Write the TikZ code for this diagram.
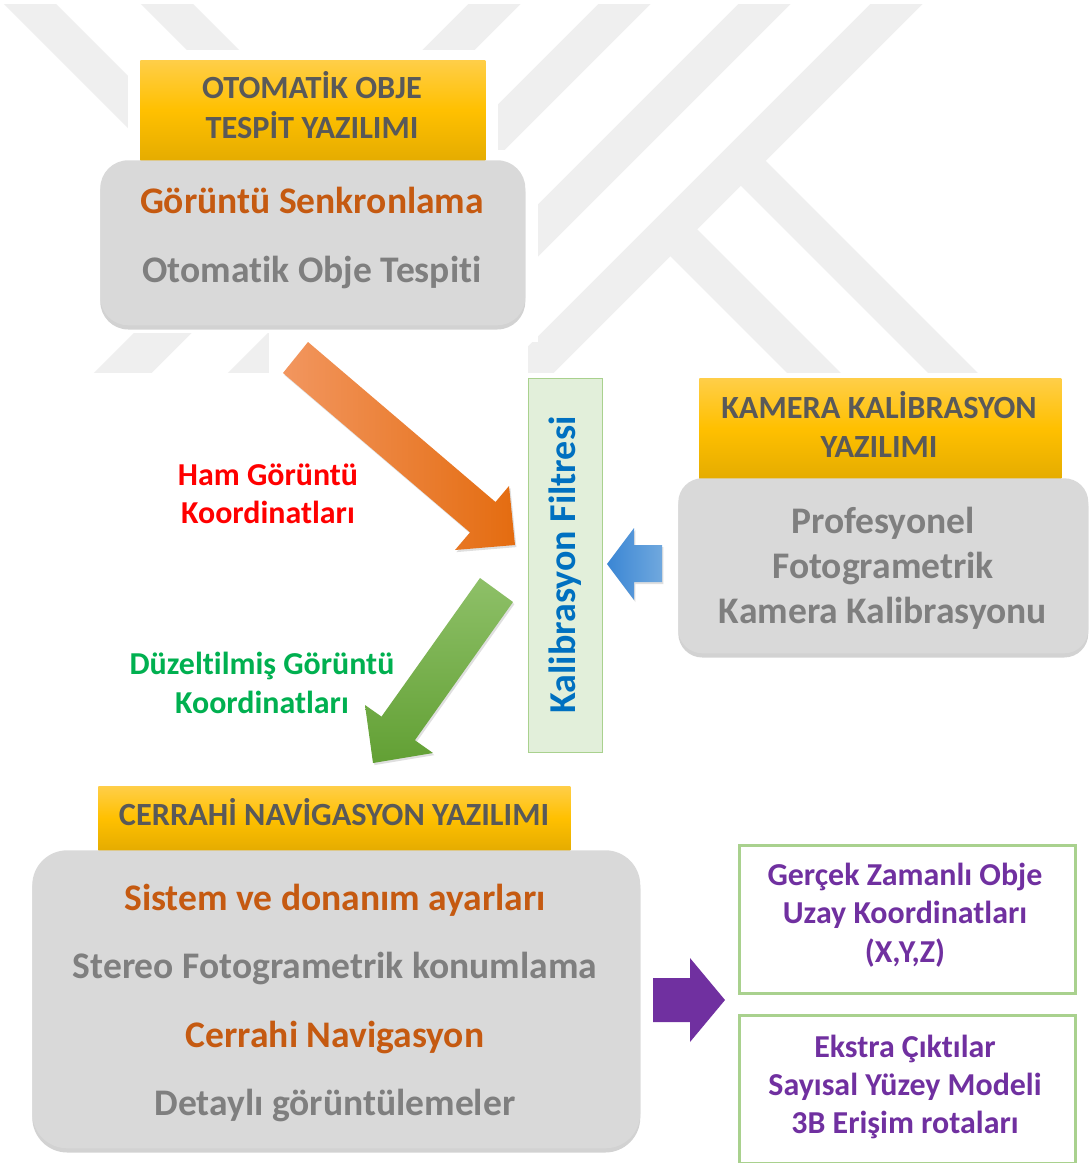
\documentclass[tikz,border=0pt]{standalone}
\usepackage{fontspec}
\setmainfont{Carlito}[Ligatures=NoCommon]
\usetikzlibrary{positioning,shadows}
\definecolor{hdtop}{RGB}{255,206,72}
\definecolor{hdyellow}{RGB}{255,192,0}
\definecolor{hdbot}{RGB}{229,172,0}
\definecolor{hdtext}{RGB}{89,89,89}
\definecolor{boxgray}{RGB}{217,217,217}
\definecolor{txtgray}{RGB}{127,127,127}
\definecolor{txtorange}{RGB}{197,90,17}
\definecolor{lgreen}{RGB}{169,209,142}
\definecolor{fgreen}{RGB}{226,239,218}
\definecolor{kblue}{RGB}{0,112,192}
\definecolor{purp}{RGB}{112,48,160}
\definecolor{labred}{RGB}{255,0,0}
\definecolor{labgreen}{RGB}{0,176,80}
\definecolor{wmgray}{RGB}{239,239,239}
\definecolor{orlight}{RGB}{242,150,95}
\definecolor{ordark}{RGB}{228,108,16}
\definecolor{grlight}{RGB}{142,192,104}
\definecolor{grdark}{RGB}{98,160,52}
\definecolor{bllight}{RGB}{112,168,222}
\definecolor{bldark}{RGB}{58,134,212}
\newcommand{\upx}{0.025cm}

\begin{document}
\begin{tikzpicture}[x=0.025cm,y=-0.025cm,
  header/.style={anchor=north west, top color=hdtop, bottom color=hdbot, middle color=hdyellow},
  graybox/.style={anchor=north west, fill=boxgray, drop shadow={shadow xshift=0pt, shadow yshift=-3pt, opacity=0.35}},
  outbox/.style={anchor=north west, draw=lgreen, line width=2.2pt, fill=white},
  hdtxt/.style={anchor=base, text=hdtext, font=\fontsize{23}{27}\selectfont\bfseries},
  gtxt/.style={anchor=base, text=txtgray, font=\fontsize{26.7}{31}\selectfont\bfseries},
  otxt/.style={gtxt, text=txtorange},
  ptxt/.style={anchor=base, text=purp, font=\fontsize{22.7}{27}\selectfont\bfseries},
  labtxt/.style={anchor=base, font=\fontsize{22.7}{27}\selectfont\bfseries},
  arrshadow/.style={drop shadow={shadow xshift=1pt, shadow yshift=-1.5pt, opacity=0.25}}]
\useasboundingbox (0,0) rectangle (1089,1163);
\fill[white] (0,0) rectangle (1089,1163);

% Background logo
\begin{scope}
  \clip (0,5) rectangle (1089,372);
  \draw[wmgray, line width=0.92cm] (-34,-60) -- (259.5,233.5) -- (63,430);
  \draw[wmgray, line width=0.92cm] (103,-60) -- (395,232) -- (197,430);
  \draw[wmgray, line width=0.92cm] (558.5,-60) -- (68.5,430);
  \draw[wmgray, line width=0.92cm] (688.5,-60) -- (198.5,430);
  \draw[wmgray, line width=0.92cm] (828.5,-60) -- (338.5,430);
  \draw[wmgray, line width=0.92cm] (960.5,-60) -- (470.5,430);
  \draw[wmgray, line width=0.88cm] (740,160) -- (1000,420);
  \draw[wmgray, line width=0.95cm] (671,230) -- (861,420);
\end{scope}
\fill[white] (128,50) rectangle (498,333);
\fill[white] (498,150) rectangle (538,342);
\fill[white] (269,333) rectangle (528,400);

% Automatic object detection
\node[header, minimum width=345*\upx, minimum height=100*\upx] (otoHd) at (140,60) {};
\node[hdtxt] (otoHdA) at (312,99) {OTOMATİK OBJE};
\node[hdtxt] (otoHdB) at (312,138) {TESPİT YAZILIMI};
\node[graybox, rounded corners=0.7cm, minimum width=425*\upx, minimum height=165*\upx] (otoBox) at (100,160) {};
\node[otxt] (otoA) at (312,213) {Görüntü Senkronlama};
\node[gtxt] (otoB) at (312,282) {Otomatik Obje Tespiti};

% Camera calibration
\node[header, minimum width=362*\upx, minimum height=100*\upx] (kamHd) at (699,378) {};
\node[hdtxt] (kamHdA) at (879,418) {KAMERA KALİBRASYON};
\node[hdtxt] (kamHdB) at (879,457) {YAZILIMI};
\node[graybox, rounded corners=0.6cm, minimum width=410*\upx, minimum height=175*\upx] (kamBox) at (678,478) {};
\node[gtxt] (kamA) at (883,533) {Profesyonel};
\node[gtxt] (kamB) at (883,578) {Fotogrametrik};
\node[gtxt] (kamC) at (883,623) {Kamera Kalibrasyonu};

% Filter
\node[anchor=north west, fill=fgreen, draw=lgreen, line width=0.8pt, minimum width=74*\upx, minimum height=374*\upx] (filt) at (528,378) {};
\node[rotate=90, anchor=base, text=kblue, font=\fontsize{27}{30}\selectfont\bfseries] (filtT) at (575,565) {Kalibrasyon Filtresi};

% Surgical navigation
\node[header, minimum width=472*\upx, minimum height=64*\upx] (navHd) at (98,786) {};
\node[hdtxt] (navHdA) at (334,825) {CERRAHİ NAVİGASYON YAZILIMI};
\node[graybox, rounded corners=0.875cm, minimum width=608*\upx, minimum height=298*\upx] (navBox) at (32,850) {};
\node[otxt] (navA) at (335,910) {Sistem ve donanım ayarları};
\node[gtxt] (navB) at (335,978) {Stereo Fotogrametrik konumlama};
\node[otxt] (navC) at (335,1047) {Cerrahi Navigasyon};
\node[gtxt] (navD) at (335,1115) {Detaylı görüntülemeler};

% Outputs
\node[outbox, minimum width=336*\upx, minimum height=148*\upx] (outA) at (738,844) {};
\node[ptxt] (outA1) at (905,885) {Gerçek Zamanlı Obje};
\node[ptxt] (outA2) at (905,923) {Uzay Koordinatları};
\node[ptxt] (outA3) at (905,962) {(X,Y,Z)};
\node[outbox, minimum width=336*\upx, minimum height=148*\upx] (outB) at (738,1014) {};
\node[ptxt] (outB1) at (905,1057) {Ekstra Çıktılar};
\node[ptxt] (outB2) at (905,1095) {Sayısal Yüzey Modeli};
\node[ptxt] (outB3) at (905,1133) {3B Erişim rotaları};

% Labels
\node[labtxt, text=labred] (hamA) at (268,485) {Ham Görüntü};
\node[labtxt, text=labred] (hamB) at (268,523) {Koordinatları};
\node[labtxt, text=labgreen] (duzA) at (262,674) {Düzeltilmiş Görüntü};
\node[labtxt, text=labgreen] (duzB) at (262,713) {Koordinatları};

% Block arrows
\path[left color=orlight, right color=ordark, arrshadow] (283,373) -- (308,342) -- (495.5,502) -- (509,486) -- (515,545) -- (455,550) -- (470,532.4) -- cycle;
\path[top color=grlight, bottom color=grdark, arrshadow] (480,578) -- (381.5,716.6) -- (365,705) -- (373,763) -- (433,753) -- (414.9,740.2) -- (513,602) -- cycle;
\path[left color=bldark, right color=bllight, arrshadow] (662,545) -- (634,545) -- (634,528) -- (607,564) -- (634,600) -- (634,582) -- (662,582) -- cycle;
\fill[purp] (653,978) -- (690,978) -- (690,958) -- (725,1000) -- (690,1042) -- (690,1022) -- (653,1022) -- cycle;
\end{tikzpicture}
\end{document}
